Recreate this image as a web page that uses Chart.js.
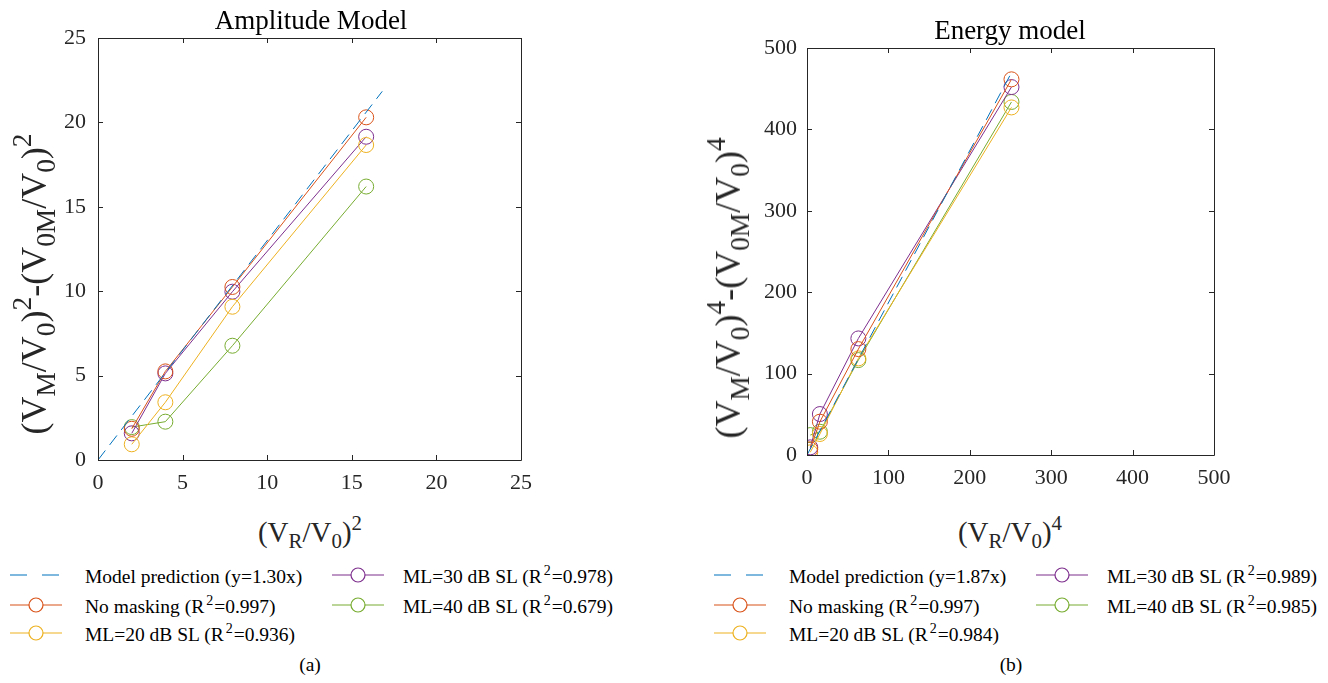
<!DOCTYPE html>
<html>
<head>
<meta charset="utf-8">
<script src="https://cdn.jsdelivr.net/npm/chart.js@4.4.0/dist/chart.umd.min.js"></script>
<style>
  html, body { margin: 0; padding: 0; background: #ffffff; }
  body { width: 1328px; height: 683px; position: relative; overflow: hidden; font-family: "Liberation Serif", "DejaVu Serif", serif; color: #262626; }
  canvas { position: absolute; }
  .t { position: absolute; white-space: nowrap; line-height: 1; transform: translate(-50%, -50%); }
  .rot { transform: translate(-50%, -50%) rotate(-90deg); }
  sub { font-size: 0.72em; vertical-align: -0.32em; line-height: 0; }
  sup { font-size: 0.72em; vertical-align: 0.55em; line-height: 0; }
  .rot sub, .rot sup { font-size: 0.76em; }
  .leg { position: absolute; white-space: nowrap; line-height: 1; font-size: 19.5px; color: #000; transform: translateY(-50%); }
  .leg sup { margin-left: 2px; margin-right: 1px; }
  .sw { position: absolute; transform: translateY(-50%); }
</style>
</head>
<body>
<canvas id="c1" width="560" height="500" style="left:0;top:0;width:560px;height:500px"></canvas>
<canvas id="c2" width="560" height="500" style="left:700px;top:0;width:560px;height:500px"></canvas>

<div class="t" style="left:311px;top:20px;font-size:27px;color:#000">Amplitude Model</div>
<div class="t" style="left:1010px;top:30px;font-size:27px;color:#000">Energy model</div>

<div class="t" style="left:310px;top:532px;font-size:29px">(V<sub>R</sub>/V<sub>0</sub>)<sup>2</sup></div>
<div class="t" style="left:1010px;top:532px;font-size:29px">(V<sub>R</sub>/V<sub>0</sub>)<sup>4</sup></div>

<div class="t rot" style="left:34px;top:284px;font-size:36px">(V<sub>M</sub>/V<sub>0</sub>)<sup>2</sup>-(V<sub>0M</sub>/V<sub>0</sub>)<sup>2</sup></div>
<div class="t rot" style="left:728px;top:288px;font-size:36px">(V<sub>M</sub>/V<sub>0</sub>)<sup>4</sup>-(V<sub>0M</sub>/V<sub>0</sub>)<sup>4</sup></div>

<div id="legends"></div>

<div class="t" style="left:310px;top:665px;font-size:19.5px;color:#000">(a)</div>
<div class="t" style="left:1011px;top:665px;font-size:19.5px;color:#000">(b)</div>

<script>
// ---------------- data ----------------
const ampX      = [1.995, 3.981, 7.943, 15.849];
const ampNoMask = [1.85, 5.25, 10.25, 20.3];
const ampML20   = [0.93, 3.42, 9.08, 18.66];
const ampML30   = [1.58, 5.13, 9.97, 19.15];
const ampML40   = [1.95, 2.27, 6.77, 16.2];
const ampModelX = [0, 16.8];
const ampModelY = [0, 21.84];
const ampTicks  = [0, 5, 10, 15, 20, 25];

const enX      = [3.98, 15.85, 63.1, 251.2];
const enNoMask = [7.0, 40.9, 130.1, 461.5];
const enML20   = [3.3, 25.8, 118.7, 427.0];
const enML30   = [9.4, 50.3, 143.2, 452.0];
const enML40   = [24.5, 28.6, 116.6, 433.7];
const enModelX = [0, 250];
const enModelY = [0, 467.5];
const enTicks  = [0, 100, 200, 300, 400, 500];

const ampLabels = ['Model prediction (y=1.30x)', 'No masking (R<sup>2</sup>=0.997)', 'ML=20 dB SL (R<sup>2</sup>=0.936)', 'ML=30 dB SL (R<sup>2</sup>=0.978)', 'ML=40 dB SL (R<sup>2</sup>=0.679)'];
const enLabels  = ['Model prediction (y=1.87x)', 'No masking (R<sup>2</sup>=0.997)', 'ML=20 dB SL (R<sup>2</sup>=0.984)', 'ML=30 dB SL (R<sup>2</sup>=0.989)', 'ML=40 dB SL (R<sup>2</sup>=0.985)'];

const colors = { model: '#0072BD', c1: '#D95319', c2: '#EDB120', c3: '#7E2F8E', c4: '#77AC30' };
const axisColor = '#262626';
const FONT = "'Liberation Serif', serif";

function pts(xs, ys) { return xs.map((x, i) => ({ x: x, y: ys[i] })); }

const boxPlugin = {
  id: 'matlabBox',
  afterDraw(chart) {
    const { ctx, chartArea: a, scales } = chart;
    ctx.save();
    ctx.strokeStyle = axisColor;
    ctx.lineWidth = 1;
    ctx.beginPath();
    ctx.rect(Math.round(a.left) + 0.5, Math.round(a.top) + 0.5, Math.round(a.right - a.left), Math.round(a.bottom - a.top));
    ctx.stroke();
    const L = 5;
    ctx.beginPath();
    scales.x.ticks.forEach(t => {
      const px = Math.round(scales.x.getPixelForValue(t.value)) + 0.5;
      ctx.moveTo(px, a.bottom); ctx.lineTo(px, a.bottom - L);
      ctx.moveTo(px, a.top); ctx.lineTo(px, a.top + L);
    });
    scales.y.ticks.forEach(t => {
      const py = Math.round(scales.y.getPixelForValue(t.value)) + 0.5;
      ctx.moveTo(a.left, py); ctx.lineTo(a.left + L, py);
      ctx.moveTo(a.right, py); ctx.lineTo(a.right - L, py);
    });
    ctx.stroke();
    ctx.restore();
  }
};

function series(label, data, color) {
  return {
    label: label, data: data, showLine: true,
    borderColor: color, backgroundColor: 'rgba(0,0,0,0)',
    borderWidth: 1, pointRadius: 7.5, pointBorderWidth: 1,
    pointHoverRadius: 7.5, pointStyle: 'circle', tension: 0
  };
}

function makeChart(id, labels, modelX, modelY, xs, s1, s2, s3, s4, ticks, geom) {
  const datasets = [
    { label: labels[0], data: pts(modelX, modelY), showLine: true, borderColor: colors.model, borderWidth: 1,
      borderDash: [12, 7], pointRadius: 0, backgroundColor: colors.model },
    series(labels[1], pts(xs, s1), colors.c1),
    series(labels[2], pts(xs, s2), colors.c2),
    series(labels[3], pts(xs, s3), colors.c3),
    series(labels[4], pts(xs, s4), colors.c4)
  ];
  const axis = (w, isX) => ({
    type: 'linear', min: ticks[0], max: ticks[ticks.length - 1],
    afterBuildTicks: s => { s.ticks = ticks.map(v => ({ value: v })); },
    grid: { display: false, drawTicks: false },
    border: { display: false },
    ticks: { color: axisColor, font: { family: FONT, size: 22 }, padding: isX ? 10 : geom.ypad, maxRotation: 0 },
    afterFit: s => { if (isX) s.height = w; else s.width = w; }
  });
  return new Chart(document.getElementById(id), {
    type: 'scatter',
    data: { datasets },
    options: {
      responsive: false, animation: false, devicePixelRatio: 1,
      layout: { padding: { left: 0, top: geom.top, right: geom.right, bottom: 0 } },
      plugins: { legend: { display: false }, tooltip: { enabled: false }, title: { display: false } },
      scales: { x: axis(geom.xh, true), y: axis(geom.yw, false) }
    },
    plugins: [boxPlugin]
  });
}

// ---------------- legends (HTML text) ----------------
function swatch(color, dashed) {
  if (dashed) {
    return '<svg width="52" height="16"><line x1="0" y1="8" x2="52" y2="8" stroke="' + color + '" stroke-width="1.2" stroke-dasharray="17,15"/></svg>';
  }
  return '<svg width="52" height="16"><line x1="0" y1="8" x2="52" y2="8" stroke="' + color + '" stroke-width="1.2"/>' +
         '<circle cx="26" cy="8" r="7" fill="white" stroke="' + color + '" stroke-width="1.2"/></svg>';
}
function buildLegend(labels, off) {
  const cols = [colors.model, colors.c1, colors.c2, colors.c3, colors.c4];
  const pos = [[10, 85, 577], [10, 85, 607], [10, 85, 635], [332, 403, 577], [332, 403, 607]];
  let html = '';
  labels.forEach((lab, i) => {
    const p = pos[i];
    html += '<div class="sw" style="left:' + (p[0] + off) + 'px;top:' + p[2] + 'px">' + swatch(cols[i], i === 0) + '</div>';
    html += '<div class="leg" style="left:' + (p[1] + off) + 'px;top:' + p[2] + 'px">' + lab + '</div>';
  });
  return html;
}
document.getElementById('legends').innerHTML = buildLegend(ampLabels, 0) + buildLegend(enLabels, 704);

// warm up the serif font on a scratch canvas before the charts draw
(function () {
  const s = document.createElement('canvas').getContext('2d');
  s.font = "22px 'Liberation Serif'";
  s.fillText('0123456789', 0, 20);
})();

makeChart('c1', ampLabels, ampModelX, ampModelY, ampX, ampNoMask, ampML20, ampML30, ampML40, ampTicks,
  { top: 38, right: 39, xh: 40, yw: 98, ypad: 12 });
makeChart('c2', enLabels, enModelX, enModelY, enX, enNoMask, enML20, enML30, enML40, enTicks,
  { top: 48, right: 46, xh: 45, yw: 107, ypad: 10 });
</script>
</body>
</html>
